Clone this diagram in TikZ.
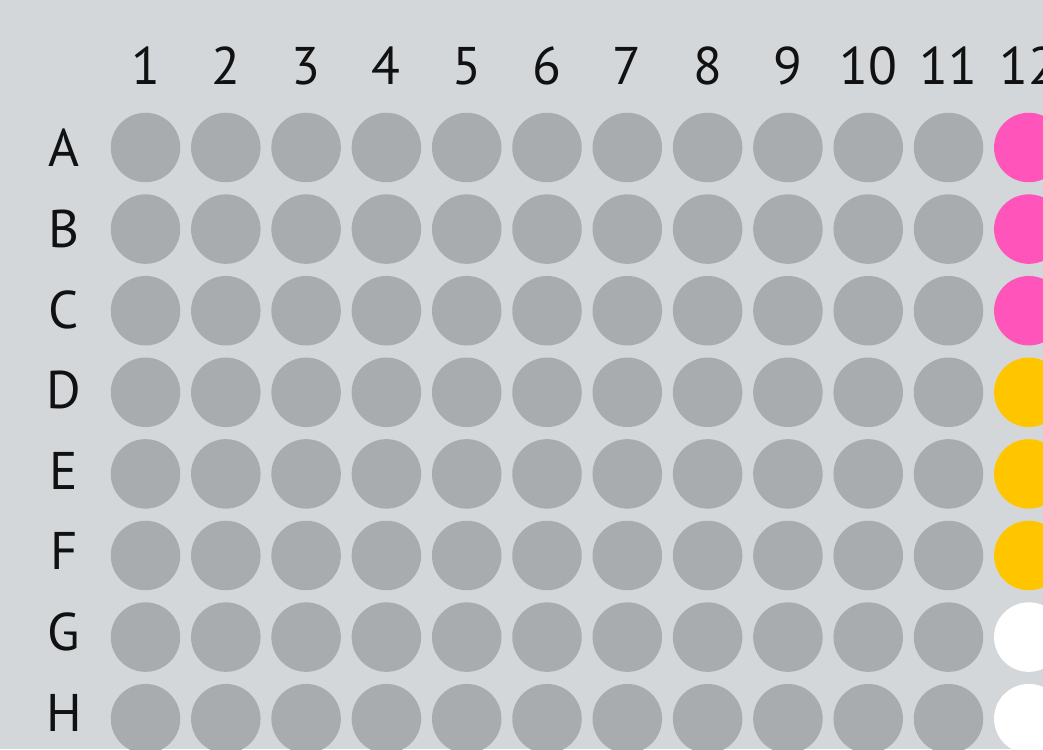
\documentclass[tikz,border=0pt]{standalone}
\usepackage{fontspec}
\setmainfont{PT Sans}
\definecolor{bg}{HTML}{D4D7DA}
\definecolor{well}{HTML}{A8ACAF}
\definecolor{pinkw}{HTML}{FF55BB}
\definecolor{yelw}{HTML}{FFC600}
\definecolor{ink}{HTML}{111111}
\tikzset{
  wellnode/.style={circle, inner sep=0pt, minimum size=69.5pt, fill=#1},
  lbl/.style={anchor=base, inner sep=0pt, text=ink, font=\fontsize{53}{53}\selectfont},
}
\begin{document}
\begin{tikzpicture}[x=1pt,y=1pt]
\clip (0,0) rectangle (1043,749);
\fill[bg] (0,0) rectangle (1043,749);
\foreach \c in {1,...,12}{
  \node[lbl] (col\c) at ({145.5+(\c-1)*80.3}, {749-85}) {\c};
}
\foreach \r/\L in {1/A,2/B,3/C,4/D,5/E,6/F,7/G,8/H}{
  \node[lbl] (row\L) at (64, {749-(167+(\r-1)*80.6)}) {\L};
  \foreach \c in {1,...,11}{
    \node[wellnode=well] (w\L\c) at ({145.5+(\c-1)*80.3}, {749-(147.5+(\r-1)*81.6)}) {};
  }
}
\foreach \r/\L/\col in {1/A/pinkw,2/B/pinkw,3/C/pinkw,4/D/yelw,5/E/yelw,6/F/yelw,7/G/white,8/H/white}{
  \node[wellnode=\col] (w\L12) at ({145.5+11*80.3}, {749-(147.5+(\r-1)*81.6)}) {};
}
\end{tikzpicture}
\end{document}
